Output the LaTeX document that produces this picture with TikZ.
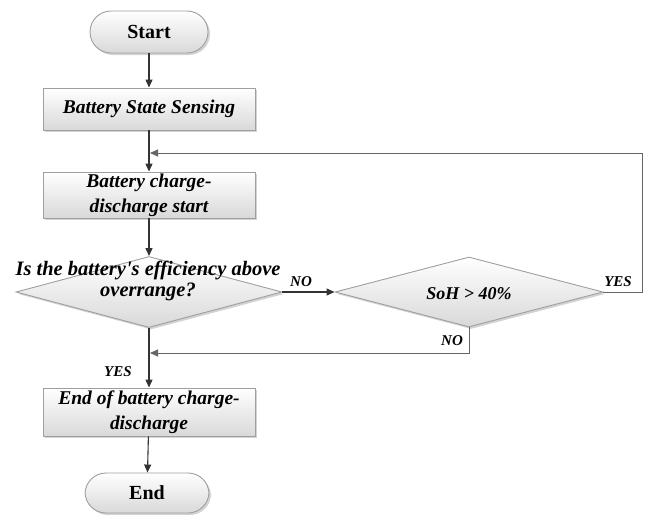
\documentclass[tikz,border=0pt]{standalone}
\usepackage{fontspec}
\setmainfont{Liberation Serif}
\usetikzlibrary{shapes.geometric,shadows,arrows.meta}
\begin{document}
\begin{tikzpicture}[x=1pt,y=-1pt,
  every node/.style={text=black},
  boxstyle/.style={draw=gray!75, line width=0.9pt, top color=white, bottom color=gray!30,
    drop shadow={shadow xshift=2pt, shadow yshift=-2pt, opacity=0.35}, align=center},
  procbox/.style={boxstyle, rectangle, minimum width=212pt, inner sep=1pt, font=\fontsize{19.5}{25}\selectfont\bfseries\itshape},
  termbox/.style={boxstyle, rounded corners=21pt, minimum width=118pt, minimum height=42pt, font=\fontsize{20}{24}\selectfont\bfseries},
  decbox/.style={boxstyle, diamond, inner sep=0pt, aspect=3.8},
  dectext/.style={align=center, inner sep=0pt, font=\fontsize{20.5}{21.5}\selectfont\bfseries\itshape},
  soh/.style={inner sep=0pt, font=\fontsize{18}{19}\selectfont\bfseries\itshape},
  conn/.style={draw=black!80, line width=1.1pt, -{Triangle[length=8pt,width=7pt]}},
  loopconn/.style={draw=black!60, line width=0.9pt, -{Triangle[length=8pt,width=7pt]}, shorten >=1pt},
  lbl/.style={font=\fontsize{15}{17}\selectfont\bfseries\itshape, inner sep=0pt}
]
\useasboundingbox (0,0) rectangle (645,514);
\node[termbox] (start) at (149,32) {Start};
\node[procbox, minimum height=42pt] (b1) at (149,109) {Battery State Sensing};
\node[procbox, minimum height=46pt] (b2) at (149,195) {Battery charge-\\discharge start};
\node[decbox, minimum width=266pt, minimum height=71pt] (d1) at (149,292) {};
\node[dectext] (d1t) at (148,281) {Is the battery\textquotesingle s efficiency above\\overrange?};
\node[decbox, minimum width=268pt, minimum height=70pt] (d2) at (469,292) {};
\node[soh] (d2t) at (469,294) {SoH > 40\%};
\node[procbox, minimum height=48pt] (b3) at (149,412) {End of battery charge-\\discharge};
\node[termbox, minimum width=124pt, minimum height=40pt] (end) at (147,493) {End};

\coordinate (j1) at (149,153);
\coordinate (j2) at (149,353);
\coordinate (r1) at (642,292);
\coordinate (r2) at (642,153);
\coordinate (s1) at (469,353);

\draw[conn] (start) -- (b1);
\draw[conn] (b1) -- (b2);
\draw[conn] (b2) -- (d1);
\draw[conn] (d1) -- (d2);
\draw[conn] (d1) -- (b3);
\draw[conn] (b3) -- (end);
\draw[loopconn] (d2.east) -- (r1) -- (r2) -- (j1);
\draw[loopconn] (d2.south) -- (s1) -- (j2);

\node[lbl] (lno1) at (301,282) {NO};
\node[lbl] (lyes1) at (618,282) {YES};
\node[lbl] (lno2) at (452,341) {NO};
\node[lbl] (lyes2) at (118,372) {YES};
\end{tikzpicture}
\end{document}
